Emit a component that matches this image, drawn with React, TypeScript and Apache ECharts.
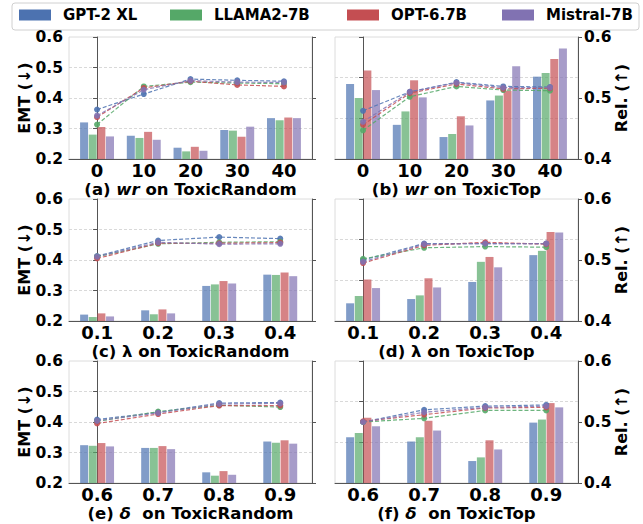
import React, { useEffect, useRef } from "react";
import * as echarts from "echarts";

// ---------- data ----------
const models = ["GPT-2 XL", "LLAMA2-7B", "OPT-6.7B", "Mistral-7B"];
const colors = ["#4c72b0", "#55a868", "#c44e52", "#8172b2"];

const wrCats = ["0", "10", "20", "30", "40"];
const lambdaCats = ["0.1", "0.2", "0.3", "0.4"];
const deltaCats = ["0.6", "0.7", "0.8", "0.9"];

const emtTicks = [0.2, 0.3, 0.4, 0.5, 0.6];
const relTicks = [0.4, 0.5, 0.6];

// (a) wr on ToxicRandom  — rows: GPT-2 XL, LLAMA2-7B, OPT-6.7B, Mistral-7B
const wrRandomBars = [
  [0.320, 0.276, 0.237, 0.295, 0.334],
  [0.280, 0.269, 0.225, 0.293, 0.327],
  [0.305, 0.289, 0.240, 0.273, 0.336],
  [0.274, 0.263, 0.227, 0.306, 0.334],
];
const wrRandomLines = [
  [0.362, 0.413, 0.462, 0.458, 0.455],
  [0.313, 0.438, 0.452, 0.449, 0.447],
  [0.337, 0.433, 0.455, 0.443, 0.438],
  [0.342, 0.427, 0.457, 0.452, 0.451],
];
// (b) wr on ToxicTop
const wrTopBars = [
  [0.523, 0.456, 0.436, 0.496, 0.535],
  [0.500, 0.478, 0.441, 0.504, 0.541],
  [0.545, 0.529, 0.470, 0.512, 0.564],
  [0.513, 0.501, 0.455, 0.552, 0.581],
];
const wrTopLines = [
  [0.479, 0.510, 0.526, 0.519, 0.518],
  [0.447, 0.502, 0.519, 0.513, 0.512],
  [0.456, 0.508, 0.523, 0.515, 0.516],
  [0.461, 0.510, 0.525, 0.517, 0.517],
];
// (c) lambda on ToxicRandom
const lambdaRandomBars = [
  [0.221, 0.235, 0.315, 0.352],
  [0.213, 0.222, 0.320, 0.351],
  [0.225, 0.238, 0.331, 0.359],
  [0.215, 0.225, 0.323, 0.347],
];
const lambdaRandomLines = [
  [0.413, 0.464, 0.475, 0.470],
  [0.411, 0.453, 0.458, 0.460],
  [0.405, 0.455, 0.455, 0.457],
  [0.411, 0.458, 0.452, 0.453],
];
// (d) lambda on ToxicTop
const lambdaTopBars = [
  [0.429, 0.436, 0.464, 0.508],
  [0.441, 0.442, 0.497, 0.515],
  [0.468, 0.470, 0.505, 0.546],
  [0.454, 0.455, 0.488, 0.545],
];
const lambdaTopLines = [
  [0.500, 0.527, 0.527, 0.527],
  [0.502, 0.520, 0.522, 0.521],
  [0.495, 0.524, 0.529, 0.526],
  [0.497, 0.526, 0.527, 0.527],
];
// (e) delta on ToxicRandom
const deltaRandomBars = [
  [0.324, 0.315, 0.235, 0.336],
  [0.322, 0.315, 0.224, 0.332],
  [0.331, 0.321, 0.239, 0.340],
  [0.320, 0.311, 0.227, 0.329],
];
const deltaRandomLines = [
  [0.408, 0.432, 0.462, 0.464],
  [0.402, 0.434, 0.455, 0.449],
  [0.395, 0.426, 0.454, 0.454],
  [0.404, 0.430, 0.459, 0.461],
];
// (f) delta on ToxicTop
const deltaTopBars = [
  [0.475, 0.468, 0.436, 0.499],
  [0.482, 0.475, 0.442, 0.504],
  [0.507, 0.502, 0.470, 0.531],
  [0.493, 0.486, 0.455, 0.524],
];
const deltaTopLines = [
  [0.500, 0.520, 0.526, 0.528],
  [0.500, 0.506, 0.519, 0.519],
  [0.501, 0.512, 0.523, 0.524],
  [0.500, 0.516, 0.524, 0.526],
];

// ---------- layout ----------
const FONT = "DejaVu Sans";
const colLeft = [69, 335];
const rowTop = [37, 199, 361];
const PW = 243;
const PH = 122;

type Panel = {
  row: number;
  col: number;
  cats: string[];
  bars: number[][];
  lines: number[][];
  title: string;
};

const panels: Panel[] = [
  { row: 0, col: 0, cats: wrCats, bars: wrRandomBars, lines: wrRandomLines, title: "{n|(a) }{i|wr}{n| on ToxicRandom}" },
  { row: 0, col: 1, cats: wrCats, bars: wrTopBars, lines: wrTopLines, title: "{n|(b) }{i|wr}{n| on ToxicTop}" },
  { row: 1, col: 0, cats: lambdaCats, bars: lambdaRandomBars, lines: lambdaRandomLines, title: "{n|(c) λ on ToxicRandom}" },
  { row: 1, col: 1, cats: lambdaCats, bars: lambdaTopBars, lines: lambdaTopLines, title: "{n|(d) λ on ToxicTop}" },
  { row: 2, col: 0, cats: deltaCats, bars: deltaRandomBars, lines: deltaRandomLines, title: "{n|(e) }{i|δ}{n|  on ToxicRandom}" },
  { row: 2, col: 1, cats: deltaCats, bars: deltaTopBars, lines: deltaTopLines, title: "{n|(f) }{i|δ}{n|  on ToxicTop}" },
];

function buildOption() {
  const grid: any[] = [];
  const xAxis: any[] = [];
  const yAxis: any[] = [];
  const series: any[] = [];
  const graphic: any[] = [];

  const axisColor = "#555";
  const splitStyle = { color: "#cfcfcf", width: 0.8, type: [3, 2] };

  panels.forEach((p, i) => {
    const left = colLeft[p.col];
    const top = rowTop[p.row];
    grid.push({
      left,
      top,
      width: PW,
      height: PH,
      show: true,
      borderColor: "#dcdcdc",
      borderWidth: 1,
      backgroundColor: "transparent",
    });
    const n = p.cats.length;
    const xmin = n === 5 ? -0.6 : -0.46;
    const xmax = n === 5 ? 4.6 : 3.52;
    const idx = p.cats.map((_, k) => k);
    xAxis.push({
      gridIndex: i,
      type: "value",
      min: xmin,
      max: xmax,
      axisLine: { show: true, lineStyle: { color: axisColor, width: 1 } },
      axisTick: { show: false },
      splitLine: { show: false },
      axisLabel: {
        customValues: idx,
        formatter: (v: number) => p.cats[Math.round(v)] ?? "",
        fontFamily: FONT,
        fontWeight: "bold",
        fontSize: 18,
        lineHeight: 18,
        color: "#000",
        margin: 2,
      },
    });

    const isLeft = p.col === 0;
    if (isLeft) {
      yAxis.push({
        gridIndex: i,
        type: "value",
        position: "left",
        min: emtTicks[0],
        max: emtTicks[emtTicks.length - 1],
        interval: 0.1,
        axisLine: { show: true, lineStyle: { color: axisColor, width: 1 } },
        axisTick: { show: true, length: 4, lineStyle: { color: axisColor } },
        splitLine: { show: true, showMinLine: false, showMaxLine: false, lineStyle: splitStyle },
        axisLabel: {
          formatter: (v: number) => v.toFixed(1),
          fontFamily: FONT,
          fontWeight: "bold",
          fontSize: 15.5,
          lineHeight: 14,
          color: "#000",
          margin: 6,
        },
      });
      yAxis.push({
        gridIndex: i,
        type: "value",
        position: "right",
        min: 0,
        max: 2,
        interval: 1,
        axisLine: { show: true, lineStyle: { color: axisColor, width: 1 } },
        axisTick: { show: true, length: 4, lineStyle: { color: axisColor } },
        splitLine: { show: false },
        axisLabel: { show: false },
      });
    } else {
      yAxis.push({
        gridIndex: i,
        type: "value",
        position: "left",
        min: 0,
        max: 3,
        interval: 1,
        axisLine: { show: true, lineStyle: { color: axisColor, width: 1 } },
        axisTick: { show: true, length: 4, lineStyle: { color: axisColor } },
        splitLine: { show: true, showMinLine: false, showMaxLine: false, lineStyle: splitStyle },
        axisLabel: { show: false },
      });
      yAxis.push({
        gridIndex: i,
        type: "value",
        position: "right",
        min: relTicks[0],
        max: relTicks[relTicks.length - 1],
        interval: 0.1,
        axisLine: { show: true, lineStyle: { color: axisColor, width: 1 } },
        axisTick: { show: true, length: 4, lineStyle: { color: axisColor } },
        splitLine: { show: false },
        axisLabel: {
          formatter: (v: number) => v.toFixed(1),
          fontFamily: FONT,
          fontWeight: "bold",
          fontSize: 15.5,
          lineHeight: 14,
          color: "#000",
          margin: 6,
        },
      });
    }
    const dataAxis = isLeft ? 2 * i : 2 * i + 1;

    models.forEach((m, k) => {
      series.push({
        type: "bar",
        name: m,
        xAxisIndex: i,
        yAxisIndex: dataAxis,
        barWidth: 8,
        barGap: "8%",
        data: p.bars[k].map((v, j) => [j, v]),
        itemStyle: { color: colors[k], opacity: 0.7 },
        z: 2,
      });
    });
    models.forEach((m, k) => {
      series.push({
        type: "line",
        name: m + " (line)",
        xAxisIndex: i,
        yAxisIndex: dataAxis,
        data: p.lines[k].map((v, j) => [j, v]),
        symbol: "circle",
        symbolSize: 6,
        lineStyle: { color: colors[k], width: 1.2, type: [4, 2], opacity: 0.85 },
        itemStyle: { color: colors[k], opacity: 0.9 },
        z: 4,
      });
    });

    // subtitle
    graphic.push({
      type: "text",
      x: left + PW / 2,
      y: top + PH + 30.5,
      style: {
        text: p.title,
        align: "center",
        verticalAlign: "middle",
        fill: "#000",
        font: `bold 16.5px "${FONT}"`,
        rich: {
          n: { fontFamily: FONT, fontWeight: "bold", fontSize: 16.5, lineHeight: 16, fill: "#000" },
          i: { fontFamily: FONT, fontWeight: "bold", fontStyle: "italic", fontSize: 16.5, lineHeight: 16, fill: "#000" },
        },
      },
    });
    // axis names
    graphic.push({
      type: "text",
      x: isLeft ? 24.5 : 621,
      y: top + PH / 2,
      rotation: Math.PI / 2,
      style: {
        text: isLeft ? "EMT (↓)" : "Rel. (↑)",
        align: "center",
        verticalAlign: "middle",
        fill: "#000",
        font: `bold 16px "${FONT}"`,
      },
    });
  });

  // legend box
  graphic.unshift({
    type: "rect",
    shape: { x: 12, y: 3, width: 627, height: 27, r: 3 },
    style: { fill: "#fff", stroke: "#d0d0d0", lineWidth: 1 },
    z: -1,
  });

  const legendLefts = [19, 170, 347, 502];
  const legend = models.map((m, k) => ({
    data: [{ name: m, icon: "rect", itemStyle: { color: colors[k], opacity: 1 } }],
    left: legendLefts[k],
    top: 6,
    padding: 0,
    itemWidth: 32,
    itemHeight: 11,
    selectedMode: false,
    textStyle: {
      fontFamily: FONT,
      fontWeight: "bold",
      fontSize: 15,
      color: "#000",
      lineHeight: 18,
      padding: [0, 0, 0, 7],
    },
  }));

  return {
    animation: false,
    backgroundColor: "#fff",
    textStyle: { fontFamily: FONT },
    grid,
    xAxis,
    yAxis,
    series,
    legend,
    graphic,
  };
}

export default function App() {
  const ref = useRef<HTMLDivElement>(null);
  useEffect(() => {
    document.body.style.margin = "0";
    if (!ref.current) return;
    const chart = echarts.init(ref.current, undefined, { renderer: "svg" });
    chart.setOption(buildOption() as any);
    return () => chart.dispose();
  }, []);
  return <div ref={ref} style={{ width: 643, height: 524 }} />;
}
